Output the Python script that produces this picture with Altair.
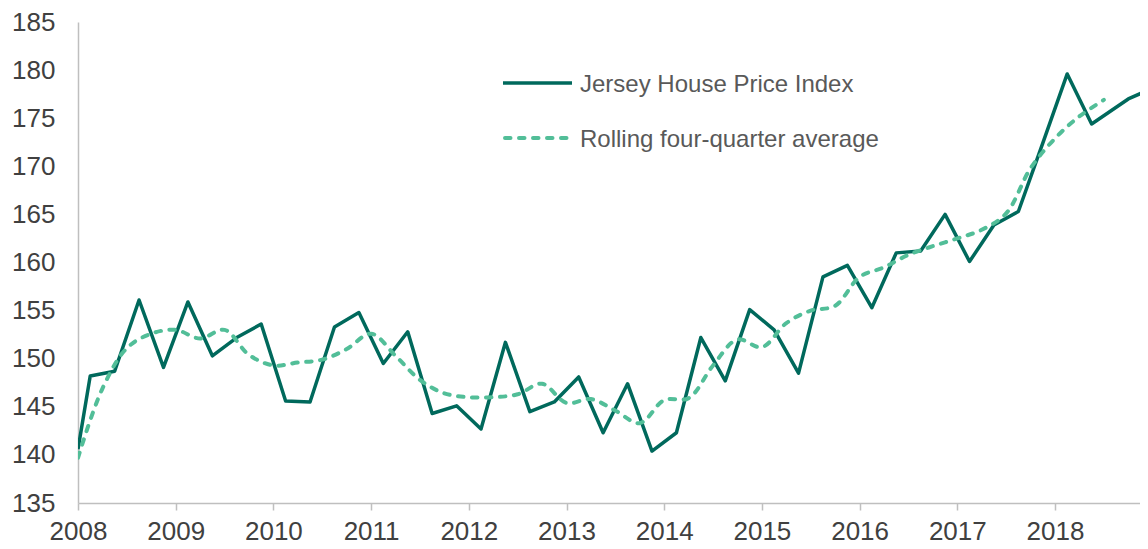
import altair as alt
import pandas as pd

# ---- data ----
# Jersey House Price Index (first point at the axis start, then mid-quarter points)
main_x = [2008.0] + [2008.125 + 0.25 * i for i in range(42)] + [2018.75, 2018.95]
main_vals = [
    140.6,
    148.2, 148.7, 156.1, 149.1,   # 2008
    155.9, 150.3, 152.2, 153.6,   # 2009
    145.6, 145.5, 153.3, 154.8,   # 2010
    149.5, 152.8, 144.3, 145.1,   # 2011
    142.7, 151.7, 144.5, 145.5,   # 2012
    148.1, 142.3, 147.4, 140.4,   # 2013
    142.3, 152.2, 147.7, 155.1,   # 2014
    153.0, 148.5, 158.5, 159.7,   # 2015
    155.3, 161.0, 161.2, 165.0,   # 2016
    160.1, 163.9, 165.3, 172.4,   # 2017
    179.6, 174.4,                 # 2018
    177.0, 177.9,
]

# Rolling four-quarter average (points at quarter starts)
avg_x = [2008.0 + 0.25 * k for k in range(43)]
avg_vals = [
    139.7, 146.9, 151.1, 152.6,
    153.0, 152.1, 153.0, 150.4,
    149.3, 149.6, 149.9, 151.0,
    152.6, 150.3, 147.8, 146.4,
    146.0, 146.0, 146.3, 147.4,
    145.4, 145.8, 144.6, 143.3,
    145.7, 145.9, 149.3, 152.0,
    151.2, 153.7, 155.0, 155.5,
    158.5, 159.5, 160.8, 161.7,
    162.5, 163.4, 165.1, 169.8,
    172.9, 175.2, 176.9,
]

x_ticks = list(range(2008, 2019))
y_ticks = list(range(135, 186, 5))
legend_labels = ["Jersey House Price Index", "Rolling four-quarter average"]

MAIN_COLOR = "#00695C"
AVG_COLOR = "#52BE98"
FONT = "Liberation Sans"

df_main = pd.DataFrame({"year": main_x, "value": main_vals})
df_avg = pd.DataFrame({"year": avg_x, "value": avg_vals})
df_leg1 = pd.DataFrame({"label": [legend_labels[0]]})
df_leg2 = pd.DataFrame({"label": [legend_labels[1]]})

x_scale = alt.Scale(domain=[2008, 2018.87], nice=False, zero=False)
y_scale = alt.Scale(domain=[135, 185], nice=False, zero=False)

x_axis = alt.Axis(
    values=x_ticks, format="d", title=None, grid=False,
    domainColor="#BFBFBF", domainWidth=1.5,
    tickColor="#BFBFBF", tickWidth=1.5, tickSize=7,
    labelFont=FONT, labelFontSize=26, labelColor="#404040",
    labelPadding=8, labelFlush=False, labelOverlap=False,
)
y_axis = alt.Axis(
    values=y_ticks, title=None, grid=False, ticks=False,
    domainColor="#BFBFBF", domainWidth=1.5,
    labelFont=FONT, labelFontSize=26, labelColor="#404040",
    labelPadding=23, labelOverlap=False,
)

main_line = alt.Chart(df_main).mark_line(
    color=MAIN_COLOR, strokeWidth=3.5, strokeJoin="round", clip=True
).encode(
    x=alt.X("year:Q", scale=x_scale, axis=x_axis),
    y=alt.Y("value:Q", scale=y_scale, axis=y_axis),
)

avg_line = alt.Chart(df_avg).mark_line(
    color=AVG_COLOR, strokeWidth=4, strokeDash=[5.5, 8.5], strokeCap="round",
    interpolate="catmull-rom", clip=True
).encode(
    x=alt.X("year:Q", scale=x_scale),
    y=alt.Y("value:Q", scale=y_scale),
)

leg_rule1 = alt.Chart(df_leg1).mark_rule(color=MAIN_COLOR, strokeWidth=3.5).encode(
    x=alt.value(425), x2=alt.value(494), y=alt.value(61)
)
leg_text1 = alt.Chart(df_leg1).mark_text(
    align="left", baseline="alphabetic", font=FONT, fontSize=24, color="#595959"
).encode(x=alt.value(502), y=alt.value(70), text="label:N")

leg_rule2 = alt.Chart(df_leg2).mark_rule(
    color=AVG_COLOR, strokeWidth=4, strokeDash=[5.5, 8.5], strokeCap="round"
).encode(x=alt.value(427), x2=alt.value(492), y=alt.value(116))
leg_text2 = alt.Chart(df_leg2).mark_text(
    align="left", baseline="alphabetic", font=FONT, fontSize=24, color="#595959"
).encode(x=alt.value(502), y=alt.value(125), text="label:N")

chart = alt.layer(
    main_line, avg_line, leg_rule1, leg_text1, leg_rule2, leg_text2
).properties(
    width=1062, height=481,
    autosize=alt.AutoSizeParams(type="none"),
    padding={"left": 70, "top": 14, "right": 0, "bottom": 42},
    background="white",
).configure_view(stroke="transparent")

chart.save("out.html", embed_options={"renderer": "svg", "actions": False})
